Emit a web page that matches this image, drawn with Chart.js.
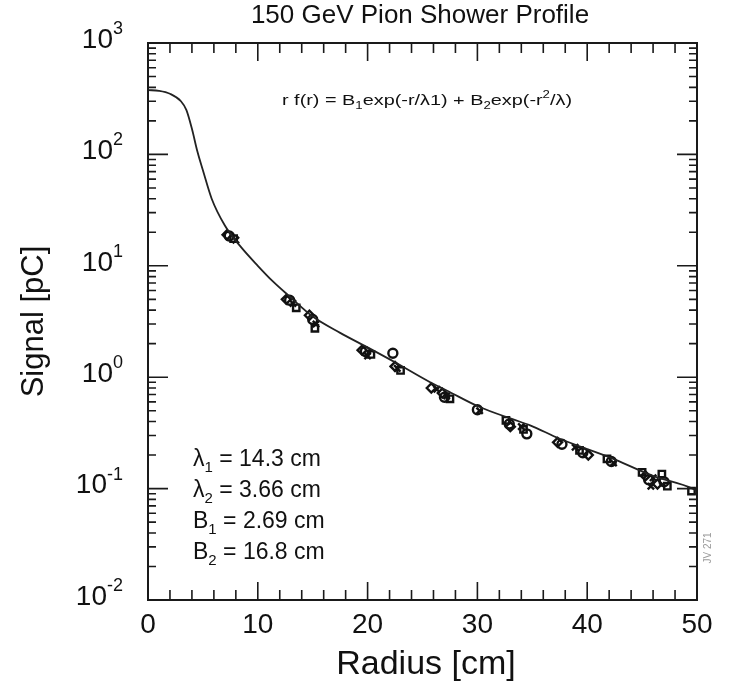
<!DOCTYPE html>
<html>
<head>
<meta charset="utf-8">
<script src="https://cdn.jsdelivr.net/npm/chart.js@4/dist/chart.umd.min.js"></script>
<style>
    body { margin: 0; background: #fff; }
    #wrap { width: 730px; height: 690px; }
</style>
</head>
<body>
<div id="wrap"><canvas id="shower_chart" width="730" height="690"></canvas></div>
<script>
// fitted curve
const curveR = [0, 1, 2, 3, 3.5, 4, 4.5, 5, 5.8, 7, 8.4, 10, 11.4, 12.9, 15, 17.5, 20, 22.5, 25.7, 27.2, 30.2, 33.2, 34.8, 37.5, 42.1, 46, 49.6, 50];
const curveS = [378, 372, 350, 300, 250, 170, 106, 72, 40, 23, 15, 10, 7.2, 5.3, 3.5, 2.5, 1.85, 1.36, 0.9, 0.76, 0.54, 0.42, 0.37, 0.28, 0.19, 0.13, 0.1, 0.095];

// measured points, by marker
const circleR = [7.4, 12.9, 15.0, 19.8, 22.3, 27.0, 30.0, 32.9, 34.5, 37.7, 39.6, 42.2, 45.6, 47.0];
const circleS = [18.5, 4.9, 3.3, 1.7, 1.64, 0.66, 0.51, 0.38, 0.31, 0.25, 0.21, 0.175, 0.12, 0.115];
const squareR = [7.8, 13.5, 15.2, 20.3, 23.0, 27.5, 32.6, 34.2, 39.3, 41.8, 45.0, 46.8, 47.3, 49.5];
const squareS = [17.5, 4.2, 2.75, 1.6, 1.15, 0.64, 0.41, 0.34, 0.22, 0.185, 0.14, 0.135, 0.105, 0.095];
const diamondR = [7.2, 12.6, 14.7, 19.5, 22.5, 25.8, 26.8, 33.0, 37.3, 40.1, 45.3, 46.4];
const diamondS = [19, 5.0, 3.6, 1.75, 1.25, 0.8, 0.72, 0.36, 0.26, 0.2, 0.13, 0.11];
const crossR = [8.0, 13.2, 15.3, 20.0, 22.7, 26.3, 27.2, 30.2, 34.0, 38.9, 42.4, 46.0, 45.8];
const crossS = [17, 4.6, 3.0, 1.55, 1.2, 0.78, 0.68, 0.5, 0.36, 0.235, 0.17, 0.125, 0.105];

const xTickLabels = ['0', '10', '20', '30', '40', '50'];
const yTickExps = ['3', '2', '1', '0', '-1', '-2'];

const FONT = '"Liberation Sans", Arial, sans-serif';

function toXY(rs, ss) {
    return rs.map((r, i) => ({ x: r, y: ss[i] }));
}

function markers(label, rs, ss, style) {
    return {
        type: 'scatter',
        label: label,
        data: toXY(rs, ss),
        pointStyle: style,
        pointRadius: 4.5,
        pointBorderWidth: 2.4,
        borderColor: '#111',
        backgroundColor: 'rgba(255,255,255,0)'
    };
}

// pieces: [text, 0 normal | 1 subscript | -1 superscript]
function drawRich(ctx, x, y, size, pieces, width) {
    ctx.save();
    ctx.textAlign = 'left';
    ctx.textBaseline = 'middle';
    let total = 0;
    pieces.forEach(([t, mode]) => {
        ctx.font = (mode === 0 ? size : Math.round(size * 0.65)) + 'px ' + FONT;
        total += ctx.measureText(t).width;
    });
    ctx.translate(x, y);
    if (width) ctx.scale(width / total, 1);
    let cx = 0;
    pieces.forEach(([t, mode]) => {
        const s = mode === 0 ? size : Math.round(size * 0.65);
        const dy = mode === 0 ? 0 : (mode === 1 ? size * 0.35 : -size * 0.4);
        ctx.font = s + 'px ' + FONT;
        ctx.fillText(t, cx, dy);
        cx += ctx.measureText(t).width;
    });
    ctx.restore();
}

// 틀, 눈금, 글자
const framePlugin = {
    id: 'frame',
    afterDraw(chart) {
        const ctx = chart.ctx;
        const a = chart.chartArea;
        const xs = chart.scales.x;
        const ys = chart.scales.y;
        ctx.save();
        ctx.strokeStyle = '#1a1a1a';
        ctx.lineWidth = 2;
        ctx.strokeRect(a.left, a.top, a.right - a.left, a.bottom - a.top);

        ctx.lineWidth = 1.6;
        ctx.beginPath();
        for (let v = 0; v <= 50; v += 2) {
            const px = xs.getPixelForValue(v);
            const len = v % 10 === 0 ? 18 : 10;
            ctx.moveTo(px, a.bottom); ctx.lineTo(px, a.bottom - len);
            ctx.moveTo(px, a.top); ctx.lineTo(px, a.top + len);
        }
        for (let e = -2; e <= 2; e++) {
            for (let m = 1; m <= 9; m++) {
                const py = ys.getPixelForValue(m * Math.pow(10, e));
                const len = m === 1 ? 20 : 8;
                ctx.moveTo(a.left, py); ctx.lineTo(a.left + len, py);
                ctx.moveTo(a.right, py); ctx.lineTo(a.right - len, py);
            }
        }
        ctx.stroke();

        ctx.fillStyle = '#111';
        // x tick labels
        ctx.font = '28px ' + FONT;
        ctx.textAlign = 'center';
        ctx.textBaseline = 'middle';
        xTickLabels.forEach(t => {
            ctx.fillText(t, xs.getPixelForValue(Number(t)), a.bottom + 25);
        });

        // y tick labels 10^n
        yTickExps.forEach(ex => {
            const py = ys.getPixelForValue(Math.pow(10, Number(ex)));
            ctx.font = '18px ' + FONT;
            const wExp = ctx.measureText(ex).width;
            ctx.font = '28px ' + FONT;
            const wBase = ctx.measureText('10').width;
            const right = 123;
            ctx.textAlign = 'left';
            ctx.fillText('10', right - wExp - wBase, py - 3);
            ctx.font = '18px ' + FONT;
            ctx.fillText(ex, right - wExp, py - 14);
        });

        // titles
        ctx.textAlign = 'center';
        ctx.font = '26px ' + FONT;
        ctx.fillText('150 GeV Pion Shower Profile', 420, 16);
        ctx.font = '34px ' + FONT;
        ctx.fillText('Radius [cm]', 426, 665);
        ctx.save();
        ctx.font = '31px ' + FONT;
        ctx.translate(34, (a.top + a.bottom) / 2);
        ctx.rotate(-Math.PI / 2);
        ctx.fillText('Signal [pC]', 0, 0);
        ctx.restore();

        // formula
        drawRich(ctx, 282, 101, 15, [
            ['r f(r) = B', 0], ['1', 1], ['exp(-r/λ1) + B', 0], ['2', 1],
            ['exp(-r', 0], ['2', -1], ['/λ)', 0]
        ], 290);

        // fit parameters
        const params = [
            [['λ', 0], ['1', 1], [' = 14.3 cm', 0]],
            [['λ', 0], ['2', 1], [' = 3.66 cm', 0]],
            [['B', 0], ['1', 1], [' = 2.69 cm', 0]],
            [['B', 0], ['2', 1], [' = 16.8 cm', 0]]
        ];
        params.forEach((p, i) => drawRich(ctx, 193, 460 + i * 31, 23, p));

        // stamp
        ctx.save();
        ctx.fillStyle = '#9a9a9a';
        ctx.font = '10px ' + FONT;
        ctx.translate(708, 548);
        ctx.rotate(-Math.PI / 2);
        ctx.textAlign = 'center';
        ctx.fillText('JV 271', 0, 0);
        ctx.restore();

        ctx.restore();
    }
};

function fnShowerChart() {
    const ctx = document.getElementById('shower_chart').getContext('2d');
    new Chart(ctx, {
        type: 'scatter',
        data: {
            datasets: [
                {
                    type: 'line',
                    label: 'fit',
                    data: toXY(curveR, curveS),
                    borderColor: '#222',
                    borderWidth: 1.8,
                    pointRadius: 0,
                    fill: false,
                    cubicInterpolationMode: 'monotone'
                },
                markers('circle', circleR, circleS, 'circle'),
                markers('square', squareR, squareS, 'rect'),
                markers('diamond', diamondR, diamondS, 'rectRot'),
                markers('cross', crossR, crossS, 'crossRot')
            ]
        },
        options: {
            responsive: false,
            animation: false,
            layout: { padding: { left: 148, top: 43, right: 33, bottom: 90 } },
            scales: {
                x: { type: 'linear', min: 0, max: 50, display: false },
                y: { type: 'logarithmic', min: 0.01, max: 1000, display: false }
            },
            plugins: {
                legend: { display: false },
                tooltip: { enabled: false }
            }
        },
        plugins: [framePlugin]
    });
}

fnShowerChart();
</script>
</body>
</html>
